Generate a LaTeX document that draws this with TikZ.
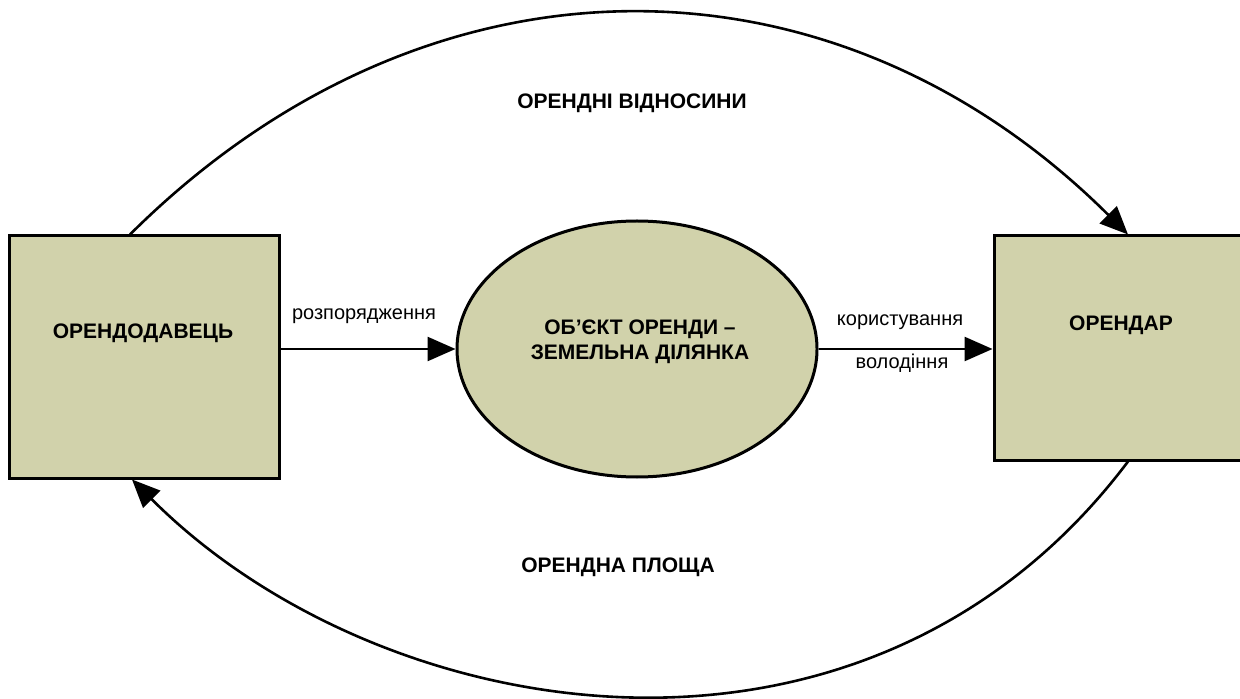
\documentclass[tikz,border=0pt]{standalone}
\usepackage{fontspec}
\setmainfont{Liberation Sans}
\usetikzlibrary{arrows.meta,shapes.geometric}
\definecolor{olivefill}{RGB}{209,210,171}
\begin{document}
\begin{tikzpicture}[x=0.5pt,y=-0.5pt,
  boxstyle/.style={draw=black, line width=1.5pt, fill=olivefill, rectangle, inner sep=0pt},
  ovalstyle/.style={draw=black, line width=1.5pt, fill=olivefill, ellipse, inner sep=0pt, minimum width=180pt, minimum height=128pt},
  boldtext/.style={font=\fontsize{10.5pt}{12.5pt}\selectfont\bfseries, align=center, inner sep=0pt},
  plaintext/.style={font=\fontsize{10pt}{12pt}\selectfont, inner sep=0pt},
  flow/.style={line width=1.3pt, -{Triangle[length=14pt,width=12pt]}},
]
\useasboundingbox (0,0) rectangle (1240,699);
\node[boxstyle, minimum width=135pt, minimum height=121pt] (lessor) at (144,357) {};
\node[boxstyle, minimum width=127pt, minimum height=112pt] (lessee) at (1121,348) {};
\node[ovalstyle] (obj) at (637,349) {};
\node[boldtext] (lessorT) at (143,333) {ОРЕНДОДАВЕЦЬ};
\node[boldtext] (lesseeT) at (1121,325) {ОРЕНДАР};
\node[boldtext] (objT) at (640,342) {ОБ’ЄКТ ОРЕНДИ –\\ЗЕМЕЛЬНА ДІЛЯНКА};
\node[plaintext] (lab1) at (364,316) {розпорядження};
\node[plaintext] (lab2) at (900,322) {користування};
\node[plaintext] (lab3) at (902,363) {володіння};
\node[boldtext] (toplab) at (632,103) {ОРЕНДНІ ВІДНОСИНИ};
\node[boldtext] (botlab) at (618,567) {ОРЕНДНА ПЛОЩА};
\draw[flow] (lessor.east |- obj.west) -- (obj.west);
\draw[flow] (obj.east) -- (obj.east -| lessee.west);
\draw[flow] ([xshift=-7pt]lessor.north) .. controls (426,-60) and (832,-60) .. ([xshift=3.5pt]lessee.north);
\draw[flow] ([xshift=3.5pt]lessee.south) .. controls (864,812) and (379.5,727.5) .. ([xshift=-6pt]lessor.south);
\end{tikzpicture}
\end{document}
